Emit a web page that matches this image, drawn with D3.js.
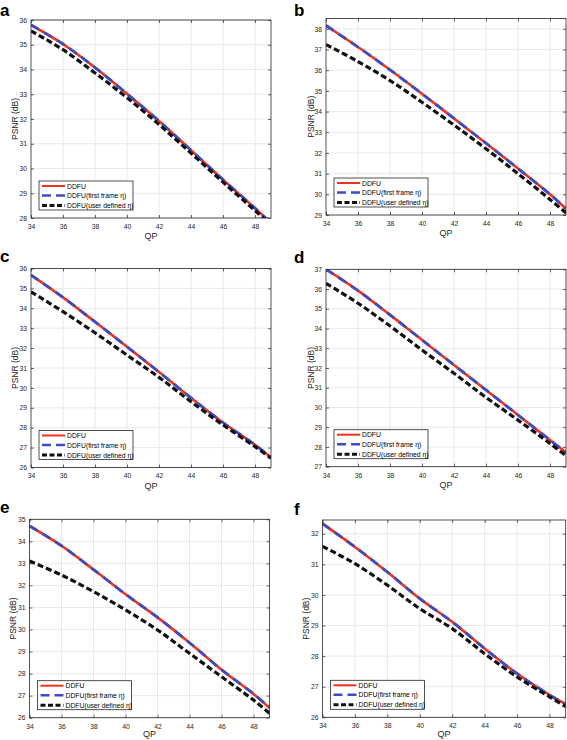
<!DOCTYPE html>
<html><head><meta charset="utf-8">
<script src="https://cdn.jsdelivr.net/npm/d3@7"></script>
<style>
body{margin:0;background:#fff;}
svg{display:block;font-family:"Liberation Sans",Arial,sans-serif;}
</style></head>
<body><svg id="c" width="567" height="740"></svg>
<script>
const qp = [34,36,38,40,42,44,46,48,49];
const xTicks = [34,36,38,40,42,44,46,48];
const seriesNames = ["DDFU","DDFU(first frame η)","DDFU(user defined η)"];
const panelLabels = ["a","b","c","d","e","f"];

const ddfuA  = [35.80,35.03,34.08,33.02,31.92,30.74,29.55,28.40,27.80];
const userA  = [35.56,34.80,33.86,32.86,31.78,30.62,29.45,28.30,27.72];
const ddfuB  = [38.16,37.12,36.02,34.86,33.67,32.47,31.25,30.00,29.30];
const userB  = [37.24,36.42,35.50,34.45,33.35,32.20,31.00,29.75,29.10];
const ddfuC  = [35.67,34.55,33.32,32.07,30.80,29.50,28.26,27.14,26.50];
const userC  = [34.83,33.83,32.77,31.65,30.53,29.31,28.14,27.05,26.47];
const ddfuD  = [37.00,35.92,34.69,33.42,32.15,30.89,29.62,28.35,27.72];
const userD  = [36.29,35.28,34.13,32.91,31.73,30.51,29.36,28.18,27.55];
const ddfuE  = [34.70,33.80,32.72,31.60,30.55,29.40,28.18,27.08,26.45];
const userE  = [33.11,32.47,31.72,30.89,29.98,28.92,27.86,26.80,26.20];
const ddfuF  = [32.33,31.57,30.75,29.88,29.12,28.25,27.43,26.73,26.43];
const userF  = [31.59,31.02,30.32,29.55,28.90,28.08,27.32,26.67,26.35];

const yDomains = [[28,36],[29,38.5],[26,36],[27,37],[26,35],[26,32.45]];
const yTickSets = [d3.range(28,37),d3.range(29,39),d3.range(26,37),d3.range(27,38),d3.range(26,36),d3.range(26,33)];
const ddfuAll = [ddfuA,ddfuB,ddfuC,ddfuD,ddfuE,ddfuF];
const userAll = [userA,userB,userC,userD,userE,userF];

// layout (pixel boxes)
const boxes = [
 {l:31,r:271,t:20,b:218, ly:15.5, yl:15},
 {l:326,r:566,t:18.5,b:215, ly:15.5, yl:311},
 {l:31,r:271,t:268.5,b:467.5, ly:262, yl:15},
 {l:326,r:566,t:269.3,b:466.7, ly:263, yl:311},
 {l:29.5,r:269.5,t:519.3,b:717.7, ly:513, yl:13},
 {l:322.5,r:565.7,t:520,b:717.3, ly:515, yl:306}
];

const svg = d3.select("#c");
const red="#f2311d", blue="#3c4cc2", blk="#111111";
let clipId=0;

boxes.forEach((bx,i)=>{
  const x = d3.scaleLinear().domain([34,49]).range([bx.l,bx.r]);
  const y = d3.scaleLinear().domain(yDomains[i]).range([bx.b,bx.t]);
  const g = svg.append("g");
  g.append("text").attr("x", bx.l < 100 ? 0 : 294).attr("y", bx.ly)
    .attr("font-size",17).attr("font-weight","bold").attr("fill","#000").text(panelLabels[i]);
  g.append("rect").attr("x",bx.l).attr("y",bx.t).attr("width",bx.r-bx.l).attr("height",bx.b-bx.t).attr("fill","#fff");
  g.selectAll(".gx").data(xTicks.slice(1)).enter().append("line")
    .attr("x1",d=>x(d)).attr("x2",d=>x(d)).attr("y1",bx.t).attr("y2",bx.b)
    .attr("stroke","#e3e3e3").attr("stroke-width",0.8);
  g.selectAll(".gy").data(yTickSets[i]).enter().append("line")
    .attr("y1",d=>y(d)).attr("y2",d=>y(d)).attr("x1",bx.l).attr("x2",bx.r)
    .attr("stroke","#e3e3e3").attr("stroke-width",0.8);
  const fmt = d3.format("d");
  const xa = d3.axisBottom(x).tickValues(xTicks).tickSizeInner(-3).tickSizeOuter(0).tickPadding(6).tickFormat(fmt);
  const ya = d3.axisLeft(y).tickValues(yTickSets[i]).tickSizeInner(-3).tickSizeOuter(0).tickPadding(4).tickFormat(fmt);
  const xg = g.append("g").attr("transform",`translate(0,${bx.b})`).call(xa);
  const yg = g.append("g").attr("transform",`translate(${bx.l},0)`).call(ya);
  const xt = g.append("g").attr("transform",`translate(0,${bx.t})`).call(d3.axisTop(x).tickValues(xTicks).tickSizeInner(-3).tickSizeOuter(0).tickFormat(""));
  const yr = g.append("g").attr("transform",`translate(${bx.r},0)`).call(d3.axisRight(y).tickValues(yTickSets[i]).tickSizeInner(-3).tickSizeOuter(0).tickFormat(""));
  [xg,yg,xt,yr].forEach(a=>{
    a.select(".domain").remove();
    a.selectAll("line").attr("stroke","#262626").attr("stroke-width",0.7);
    a.selectAll("text").attr("font-size",6.8).attr("fill","#262626").attr("font-family","Liberation Sans, Arial, sans-serif");
  });
  const cid = "clip"+(clipId++);
  svg.append("clipPath").attr("id",cid).append("rect")
    .attr("x",bx.l).attr("y",bx.t).attr("width",bx.r-bx.l).attr("height",bx.b-bx.t);
  const line = d3.line().x((d,k)=>x(qp[k])).y(d=>y(d)).curve(d3.curveCatmullRom.alpha(0.5));
  const lg = g.append("g").attr("clip-path",`url(#${cid})`);
  lg.append("path").attr("d",line(ddfuAll[i])).attr("fill","none").attr("stroke",red).attr("stroke-width",2.6);
  lg.append("path").attr("d",line(ddfuAll[i])).attr("fill","none").attr("stroke",blue).attr("stroke-width",2.8).attr("stroke-dasharray","9,6");
  lg.append("path").attr("d",line(userAll[i])).attr("fill","none").attr("stroke",blk).attr("stroke-width",3.2).attr("stroke-dasharray","6,3");
  g.append("rect").attr("x",bx.l).attr("y",bx.t).attr("width",bx.r-bx.l).attr("height",bx.b-bx.t)
    .attr("fill","none").attr("stroke","#262626").attr("stroke-width",0.8);
  g.append("text").attr("x",(bx.l+bx.r)/2).attr("y",Math.min(bx.b+21,737)).attr("text-anchor","middle")
    .attr("font-size",9).attr("fill","#262626").text("QP");
  g.append("text").attr("transform",`translate(${bx.yl},${(bx.t+bx.b)/2}) rotate(-90)`).attr("text-anchor","middle")
    .attr("dominant-baseline","central")
    .attr("font-size",8.5).attr("fill","#262626").text("PSNR (dB)");
  const lx = bx.l+8, lyTop = bx.b-37;
  const leg = g.append("g");
  leg.append("rect").attr("x",lx).attr("y",lyTop).attr("width",94).attr("height",29)
    .attr("fill","#fff").attr("stroke","#262626").attr("stroke-width",0.8);
  const styles = [
    {c:red,w:2,da:null},{c:blue,w:2.6,da:"9,5"},{c:blk,w:3,da:"5,2.5"}
  ];
  const rows=[5,14.5,24.5];
  seriesNames.forEach((nm,k)=>{
    const yy = lyTop+rows[k];
    leg.append("line").attr("x1",lx+3).attr("x2",lx+26).attr("y1",yy).attr("y2",yy)
      .attr("stroke",styles[k].c).attr("stroke-width",styles[k].w).attr("stroke-dasharray",styles[k].da);
    leg.append("text").attr("x",lx+28).attr("y",yy+2.5).attr("font-size",6.8).attr("fill","#000").text(nm);
  });
});
</script></body></html>
